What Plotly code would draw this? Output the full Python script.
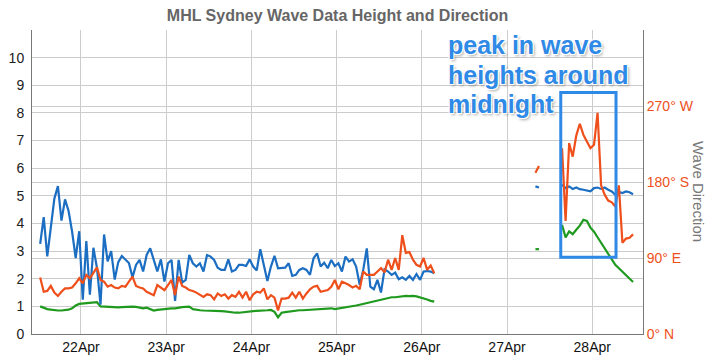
import pandas as pd
import plotly.graph_objects as go

# ---------------- data ----------------
seg1_start = "2019-04-21 12:30"   # hourly
wave_max_1 = [3.26, 4.23, 2.81, 3.9, 4.9, 5.35, 4.1, 4.87, 4.45, 3.7, 2.75, 3.72, 1.24, 3.36, 1.42, 3.12,
              2.39, 1.06, 3.6, 2.63, 3.0, 1.97, 2.6, 2.82, 2.7, 2.57, 2.05, 2.5, 2.68, 2.26, 2.86, 3.1,
              2.68, 2.26, 2.7, 1.9, 2.56, 2.68, 1.2, 2.68, 1.86, 1.96, 2.86, 2.56, 2.44, 2.56, 2.26, 2.86,
              2.8, 2.68, 2.4, 2.32, 2.32, 2.7, 2.26, 2.32, 2.5, 2.5, 2.46, 2.7, 2.44, 2.3, 3.07, 2.5,
              1.92, 2.44, 2.83, 2.38, 2.38, 2.4, 2.56, 2.1, 2.14, 2.32, 2.38, 2.32, 2.14, 2.74, 2.92, 2.44,
              2.58, 2.38, 2.68, 2.46, 2.56, 2.26, 2.8, 2.62, 2.7, 2.44, 1.78, 2.32, 3.1, 1.71, 1.62, 1.96,
              1.5, 2.34, 2.26, 2.14, 2.22, 1.98, 2.05, 1.96, 2.1, 1.96, 2.17, 1.96, 2.26, 2.28, 2.26, 2.2]
wave_sig_1 = [1.0, 0.95, 0.9, 0.88, 0.86, 0.85, 0.85, 0.86, 0.88, 0.93, 1.03, 1.09, 1.1, 1.11, 1.12, 1.13,
              1.15, 1.0, 0.99, 0.98, 0.98, 0.97, 0.96, 0.97, 0.98, 1.0, 0.99, 0.98, 0.96, 0.93, 0.95, 0.9,
              0.85, 0.87, 0.89, 0.9, 0.91, 0.93, 0.93, 0.96, 0.97, 0.98, 0.99, 0.9, 0.87, 0.86, 0.85, 0.85,
              0.85, 0.85, 0.84, 0.83, 0.82, 0.8, 0.78, 0.77, 0.77, 0.79, 0.81, 0.82, 0.83, 0.84, 0.84, 0.85,
              0.86, 0.87, 0.8, 0.6, 0.77, 0.79, 0.81, 0.84, 0.85, 0.86, 0.86, 0.87, 0.88, 0.89, 0.9, 0.9,
              0.92, 0.93, 0.93, 0.9, 0.92, 0.93, 0.96, 0.98, 1.01, 1.03, 1.06, 1.09, 1.11, 1.14, 1.17, 1.2,
              1.23, 1.26, 1.3, 1.33, 1.33, 1.35, 1.37, 1.38, 1.37, 1.38, 1.36, 1.33, 1.3, 1.25, 1.2, 1.17]
wave_dir_1 = [67, 50, 51, 57, 49, 45, 50, 54, 54, 55, 60, 66, 60, 70, 66, 72,
              79, 64, 62, 56, 58, 55, 54, 57, 56, 62, 68, 57, 55, 54, 50, 48,
              46, 58, 55, 52, 58, 64, 46, 68, 57, 55, 52, 51, 49, 46, 44, 47,
              46, 41, 48, 45, 47, 42, 46, 44, 50, 43, 50, 40, 47, 50, 49, 54,
              41, 46, 43, 28, 42, 42, 43, 49, 43, 50, 42, 48, 53, 56, 57, 50,
              51, 52, 56, 64, 53, 62, 60, 58, 55, 57, 53, 74, 70, 70, 70, 74,
              78, 73, 88, 76, 90, 76, 117, 96, 97, 88, 82, 80, 90, 76, 81, 72]

seg2_start = "2019-04-27 08:00"
wave_max_2 = [5.34, 5.3]
wave_sig_2 = [3.07, 3.07]
wave_dir_2 = [191, 199]

seg3_start = "2019-04-27 15:30"
wave_max_3 = [5.4, 5.28, 5.34, 5.25, 5.3, 5.24, 5.22, 5.18, 5.16, 5.28, 5.3, 5.25, 5.3, 5.22, 5.16, 5.04,
              5.14, 5.1, 5.16, 5.13, 5.06]
wave_sig_3 = [3.95, 3.49, 3.71, 3.61, 3.77, 3.92, 4.13, 4.09, 3.85, 3.7, 3.5, 3.3, 3.1, 2.9, 2.7, 2.5,
              2.38, 2.26, 2.12, 2.0, 1.88]
wave_dir_3 = [220, 134, 226, 210, 235, 249, 236, 228, 220, 224, 262, 176, 165, 158, 156, 151,
              176, 108, 113, 114, 118]

x_tick_vals = ["2019-04-22", "2019-04-23", "2019-04-24", "2019-04-25", "2019-04-26", "2019-04-27", "2019-04-28"]
x_tick_text = ["22Apr", "23Apr", "24Apr", "25Apr", "26Apr", "27Apr", "28Apr"]
height_ticks = list(range(0, 11))
dir_tick_vals = [0, 90, 180, 270]
dir_tick_text = ["0° N", "90° E", "180° S", "270° W"]

x_range = ["2019-04-21 10:12", "2019-04-28 14:18"]
box_x = ["2019-04-27 15:08", "2019-04-28 06:42"]
box_y = [2.78, 8.74]
note_lines = ["peak in wave", "heights around", "midnight"]

BLUE = "#1b6ec2"
ORANGE = "#ee4f1b"
GREEN = "#1f9a1f"
NOTE = "#2e8ae6"


def joined(starts_vals):
    xs, ys = [], []
    for k, (start, vals) in enumerate(starts_vals):
        t = pd.date_range(start, periods=len(vals), freq="h")
        if k > 0:
            xs.append(t[0] - pd.Timedelta(minutes=30))
            ys.append(None)
        xs.extend(list(t))
        ys.extend(vals)
    return xs, ys


segs = [seg1_start, seg2_start, seg3_start]
xb, yb = joined(zip(segs, [wave_max_1, wave_max_2, wave_max_3]))
xg, yg = joined(zip(segs, [wave_sig_1, wave_sig_2, wave_sig_3]))
xo, yo = joined(zip(segs, [wave_dir_1, wave_dir_2, wave_dir_3]))

fig = go.Figure()
fig.add_trace(go.Scatter(x=xg, y=yg, mode="lines", line=dict(color=GREEN, width=2.2),
                         connectgaps=False, showlegend=False))
fig.add_trace(go.Scatter(x=xb, y=yb, mode="lines", line=dict(color=BLUE, width=2.2),
                         connectgaps=False, showlegend=False))
fig.add_trace(go.Scatter(x=xo, y=yo, mode="lines", line=dict(color=ORANGE, width=2.2),
                         connectgaps=False, showlegend=False, yaxis="y2"))

FONT = "Liberation Sans, Arial, sans-serif"

# page body has an 8px default margin, so the figure is sized to fit the window
W, H = 708, 354
fig.update_layout(
    width=W, height=H,
    margin=dict(l=24, r=73, t=22, b=28, autoexpand=False),
    plot_bgcolor="white", paper_bgcolor="white",
    font=dict(family=FONT, size=14, color="#222"),
    title=dict(text="<b>MHL Sydney Wave Data Height and Direction</b>", x=0.5, xref="paper",
               xanchor="center", y=1 - 2 / H, yanchor="top", pad=dict(t=0, b=0, l=0, r=0),
               font=dict(family=FONT, size=16, color="#666")),
    xaxis=dict(range=x_range, tickvals=x_tick_vals, ticktext=x_tick_text, automargin=False,
               showgrid=True, gridcolor="#cccccc", gridwidth=1,
               showline=True, linecolor="#777", linewidth=1, ticks="",
               zeroline=False, tickfont=dict(size=14, color="#111")),
    yaxis=dict(range=[0, 11], tickvals=height_ticks, showgrid=True, gridcolor="#cccccc",
               automargin=False,
               showline=True, linecolor="#777", linewidth=1, ticks="", zeroline=False,
               tickfont=dict(size=14, color="#222"), ticklabelstandoff=4),
    yaxis2=dict(range=[0, 360], tickvals=dir_tick_vals, ticktext=dir_tick_text, automargin=False,
                overlaying="y", side="right", showgrid=True, gridcolor="#cccccc",
                showline=True, linecolor="#777", linewidth=1, ticks="", zeroline=False,
                tickfont=dict(size=14, color=ORANGE), ticklabelstandoff=0),
)

fig.add_shape(type="rect", xref="x", yref="y", x0=box_x[0], x1=box_x[1], y0=box_y[0], y1=box_y[1],
              line=dict(color=NOTE, width=3), fillcolor="rgba(0,0,0,0)")

note_y_px = [45, 75, 104]
for txt, ypx in zip(note_lines, note_y_px):
    fig.add_annotation(text="<b>" + txt + "</b>", xref="paper", yref="paper",
                       x=(446 - 32) / 611, y=(334 - ypx) / 304, xanchor="left", yanchor="middle",
                       showarrow=False,
                       font=dict(family=FONT, size=25, color=NOTE,
                                 shadow="1px 1px 0px #fff, -1px -1px 0px #fff, 1px -1px 0px #fff, -1px 1px 0px #fff, 2px 2px 3px rgba(0,0,0,0.35)"))

fig.add_annotation(text="Wave Direction", xref="paper", yref="paper",
                   x=(699 - 32) / 611, y=(334 - 191) / 304, xanchor="center", yanchor="middle",
                   textangle=90, showarrow=False, font=dict(family=FONT, size=15, color="#777"))

fig.write_html("out.html")
